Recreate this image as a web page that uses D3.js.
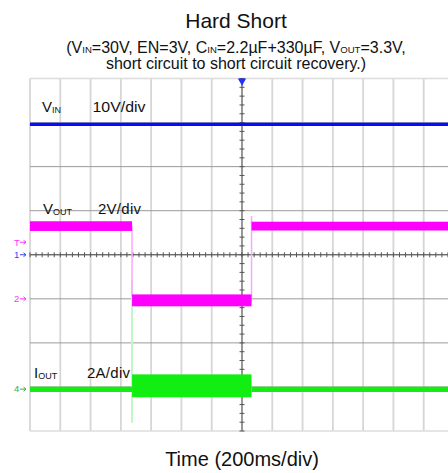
<!DOCTYPE html>
<html>
<head>
<meta charset="utf-8">
<script src="https://cdn.jsdelivr.net/npm/d3@7"></script>
<style>
  body { margin: 0; background: #fff; }
  text { font-family: "Liberation Sans", Arial, sans-serif; }
</style>
</head>
<body>
<div id="chart"></div>
<script>
// time in ms (200 ms/div, 14 div), centre of screen = trigger
const timeDomain = [-1400, 1400];
const divDomain = [-4, 4];

// channel settings: volts (or amps) per div and marker offset in div
const chScale = { vin: 10, vout: 2, iout: 2 };
const chOffset = { vin: 0, vout: -1, iout: -3.05 };

// VIN trace (V)
const vinTime = [-1400, 1400];
const vinValue = [29.6, 29.6];

// VOUT envelope per segment (V)
const voutTime = [-1400, -726, 63, 1400];
const voutHi = [3.52, 0.2, 3.5];
const voutLo = [3.08, -0.34, 3.1];
const voutEdgeTime = [-726, 63];
const voutEdgeFrom = [3.3, -0.1];
const voutEdgeTo = [0.1, 3.76];

// IOUT envelope per segment (A)
const ioutTime = [-1400, -726, 63, 1400];
const ioutHi = [0.11, 0.67, 0.11];
const ioutLo = [-0.13, -0.37, -0.13];
const ioutEdgeTime = [-726];
const ioutEdgeFrom = [-1.53];
const ioutEdgeTo = [4.95];

const width = 448;
const height = 473;
const plot = { left: 30, top: 78.5, right: 454, bottom: 431 };

let svg = d3
  .select("#chart")
  .append("svg")
  .attr("width", width)
  .attr("height", height);

let x = d3.scaleLinear().domain(timeDomain).range([plot.left, plot.right]);
let y = d3.scaleLinear().domain(divDomain).range([plot.bottom, plot.top]);

function yCh(ch, v) {
  return y(chOffset[ch] + v / chScale[ch]);
}

// grid
let grid = svg.append("g");
grid
  .selectAll("line.v")
  .data(x.ticks(14))
  .enter()
  .append("line")
  .attr("x1", (d) => x(d))
  .attr("x2", (d) => x(d))
  .attr("y1", plot.top)
  .attr("y2", plot.bottom)
  .attr("stroke", "#d6d6d6")
  .attr("stroke-width", 1.8);

grid
  .selectAll("line.h")
  .data(y.ticks(8))
  .enter()
  .append("line")
  .attr("x1", plot.left)
  .attr("x2", plot.right)
  .attr("y1", (d) => y(d))
  .attr("y2", (d) => y(d))
  .attr("stroke", (d) => (Math.abs(d) === 4 ? "#dcdcdc" : "#9a9a9a"))
  .attr("stroke-width", (d) => (Math.abs(d) === 4 ? 1.6 : 1));

// centre cross with minor ticks
grid
  .append("line")
  .attr("x1", x(0))
  .attr("x2", x(0))
  .attr("y1", plot.top)
  .attr("y2", plot.bottom)
  .attr("stroke", "#555")
  .attr("stroke-width", 1);
grid
  .append("line")
  .attr("x1", plot.left)
  .attr("x2", plot.right)
  .attr("y1", y(0))
  .attr("y2", y(0))
  .attr("stroke", "#555")
  .attr("stroke-width", 1);

grid
  .selectAll("line.mx")
  .data(d3.range(-1400, 1401, 40))
  .enter()
  .append("line")
  .attr("x1", (d) => x(d))
  .attr("x2", (d) => x(d))
  .attr("y1", y(0) - 2.5)
  .attr("y2", y(0) + 2.5)
  .attr("stroke", "#555");

grid
  .selectAll("line.my")
  .data(d3.range(-4, 4.01, 0.2))
  .enter()
  .append("line")
  .attr("x1", x(0) - 2.5)
  .attr("x2", x(0) + 2.5)
  .attr("y1", (d) => y(d))
  .attr("y2", (d) => y(d))
  .attr("stroke", "#555");

// trigger marker
svg
  .append("path")
  .attr("d", d3.symbol(d3.symbolTriangle, 30)())
  .attr("transform", "translate(" + x(0) + "," + (plot.top + 2.5) + ") rotate(180)")
  .attr("fill", "#2233ff");

// traces
let traces = svg.append("g");

function envelope(ch, times, hi, lo, color) {
  let segs = hi.map((h, i) => ({ t0: times[i], t1: times[i + 1], hi: h, lo: lo[i] }));
  traces
    .append("g")
    .selectAll("rect")
    .data(segs)
    .enter()
    .append("rect")
    .attr("x", (d) => x(d.t0))
    .attr("width", (d) => x(d.t1) - x(d.t0))
    .attr("y", (d) => yCh(ch, d.hi))
    .attr("height", (d) => yCh(ch, d.lo) - yCh(ch, d.hi))
    .attr("fill", color);
}

function edges(ch, times, from, to, color, w) {
  traces
    .append("g")
    .selectAll("line")
    .data(times)
    .enter()
    .append("line")
    .attr("x1", (d) => x(d))
    .attr("x2", (d) => x(d))
    .attr("y1", (d, i) => yCh(ch, from[i]))
    .attr("y2", (d, i) => yCh(ch, to[i]))
    .attr("stroke", color)
    .attr("stroke-width", w);
}

edges("iout", ioutEdgeTime, ioutEdgeFrom, ioutEdgeTo, "#c4f5c4", 2);
edges("vout", voutEdgeTime, voutEdgeFrom, voutEdgeTo, "#f7aaf7", 1.5);

let vinLine = d3
  .line()
  .x((d, i) => x(vinTime[i]))
  .y((d) => yCh("vin", d));
traces
  .append("path")
  .attr("d", vinLine(vinValue))
  .attr("fill", "none")
  .attr("stroke", "#0a0aff")
  .attr("stroke-width", 3.3);

envelope("vout", voutTime, voutHi, voutLo, "#ff00ff");
envelope("iout", ioutTime, ioutHi, ioutLo, "#11ee11");

// text with subscripts
function richText(parent, px, py, size, parts, anchor) {
  let t = parent
    .append("text")
    .attr("x", px)
    .attr("y", py)
    .attr("font-size", size)
    .attr("text-anchor", anchor || "start")
    .attr("fill", "#111");
  parts.forEach((p, i) => {
    let s = t.append("tspan").text(p[0]);
    if (p[1]) s.attr("font-size", size * 0.6).attr("dy", 0.5);
    else if (i > 0 && parts[i - 1][1]) s.attr("dy", -0.5);
  });
  return t;
}

svg
  .append("text")
  .attr("x", 236)
  .attr("y", 28)
  .attr("text-anchor", "middle")
  .attr("font-size", 21)
  .attr("fill", "#111")
  .text("Hard Short");

richText(svg, 236, 52.5, 16, [
  ["(V"], ["IN", 1], ["=30V, EN=3V, C"], ["IN", 1], ["=2.2µF+330µF, V"], ["OUT", 1], ["=3.3V,"]
], "middle");
richText(svg, 236, 68.5, 16, [["short circuit to short circuit recovery.)"]], "middle");

svg
  .append("text")
  .attr("x", 242)
  .attr("y", 466)
  .attr("text-anchor", "middle")
  .attr("font-size", 20)
  .attr("fill", "#111")
  .text("Time (200ms/div)");

// channel labels
richText(svg, 42, 112, 15, [["V"], ["IN", 1]]);
svg.append("text").attr("x", 92.5).attr("y", 112).attr("font-size", 15)
  .attr("textLength", 53).attr("lengthAdjust", "spacingAndGlyphs").attr("fill", "#111").text("10V/div");
richText(svg, 43, 214, 15, [["V"], ["OUT", 1]]);
svg.append("text").attr("x", 98).attr("y", 214).attr("font-size", 15)
  .attr("textLength", 43).attr("fill", "#111").text("2V/div");
richText(svg, 34, 378, 15, [["I"], ["OUT", 1]]);
svg.append("text").attr("x", 87).attr("y", 378).attr("font-size", 15)
  .attr("textLength", 43).attr("fill", "#111").text("2A/div");

// channel markers at the left edge
const markerText = ["T", "1", "2", "4"];
const markerDiv = [0, 0, -1, -3.05];
const markerColor = ["#ff33ff", "#3344ff", "#ff33ff", "#44aa44"];

let markers = svg
  .selectAll("g.marker")
  .data(markerText)
  .enter()
  .append("g")
  .attr("transform", (d, i) => "translate(14," + y(markerDiv[i]) + ")");
markers
  .append("text")
  .attr("y", (d) => (d === "T" ? -9 : 3))
  .attr("font-size", 9.5)
  .attr("fill", (d, i) => markerColor[i])
  .text((d) => d);
markers
  .append("path")
  .attr("d", (d) => (d === "T" ? "M6,-12.5H12M9.5,-14.5L12,-12.5L9.5,-10.5" : "M6,0H12M9.5,-2L12,0L9.5,2"))
  .attr("fill", "none")
  .attr("stroke", (d, i) => markerColor[i])
  .attr("stroke-width", 1);
</script>
</body>
</html>
